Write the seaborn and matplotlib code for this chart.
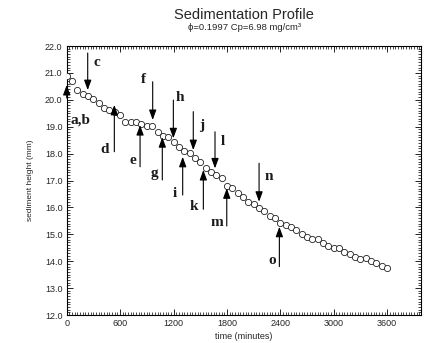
import matplotlib
matplotlib.use("Agg")
import matplotlib.pyplot as plt
import seaborn as sns
import pandas as pd
from matplotlib.ticker import MultipleLocator

# ---------------- data ----------------
time_min = [0, 60, 120, 180, 240, 300, 360, 420, 480, 540,
            600, 660, 720, 780, 840, 900, 960, 1020, 1080, 1140,
            1200, 1260, 1320, 1380, 1440, 1500, 1560, 1620, 1680, 1740,
            1800, 1860, 1920, 1980, 2040, 2100, 2160, 2220, 2280, 2340,
            2400, 2460, 2520, 2580, 2640, 2700, 2760, 2820, 2880, 2940,
            3000, 3060, 3120, 3180, 3240, 3300, 3360, 3420, 3480, 3540,
            3600]
height_mm = [20.88, 20.71, 20.36, 20.22, 20.14, 20.03, 19.87, 19.71, 19.62, 19.54,
             19.43, 19.19, 19.19, 19.19, 19.10, 19.03, 19.04, 18.81, 18.67, 18.61,
             18.42, 18.23, 18.10, 18.01, 17.83, 17.68, 17.48, 17.33, 17.20, 17.10,
             16.80, 16.71, 16.55, 16.40, 16.21, 16.12, 15.97, 15.87, 15.69, 15.62,
             15.43, 15.35, 15.26, 15.16, 15.01, 14.91, 14.83, 14.83, 14.69, 14.58,
             14.48, 14.50, 14.33, 14.26, 14.14, 14.07, 14.11, 14.01, 13.92, 13.82,
             13.73]

# arrow annotations: label, time, tail y, tip y, label x, label y
arrow_labels = ["a,b", "c", "d", "e", "f", "g", "h", "i", "j", "k", "l", "m", "n", "o"]
arrow_time   = [0, 236, 535, 824, 966, 1074, 1198, 1303, 1422, 1535, 1666, 1798, 2161, 2389]
arrow_tail   = [20.07, 21.74, 18.07, 17.51, 20.67, 17.02, 19.99, 16.46, 19.56, 15.93, 18.81, 15.31, 17.64, 13.80]
arrow_tip    = [20.55, 20.36, 19.81, 19.06, 19.25, 18.61, 18.57, 17.88, 18.13, 17.39, 17.45, 16.71, 16.21, 15.28]
label_x      = [150, 337, 430, 742, 861, 981, 1273, 1217, 1517, 1430, 1753, 1685, 2265, 2303]
label_y      = [19.25, 21.37, 18.17, 17.74, 20.76, 17.27, 20.09, 16.52, 19.06, 16.03, 18.44, 15.43, 17.14, 14.04]

title = "Sedimentation Profile"
subtitle = "ϕ=0.1997 Cp=6.98 mg/cm³"
x_label = "time (minutes)"
y_label = "sediment height (mm)"

# ---------------- plot ----------------
sns.set_theme(style="ticks")
plt.rcParams["font.family"] = ["Liberation Sans", "DejaVu Sans"]

df = pd.DataFrame({"time": time_min, "height": height_mm})

fig = plt.figure(figsize=(4.25, 3.43), dpi=100)
ax = fig.add_axes([66.7 / 425, 1 - 315 / 343, (421 - 66.7) / 425, (315 - 46) / 343])

sns.scatterplot(data=df, x="time", y="height", ax=ax, marker="o", s=20,
                facecolor="white", edgecolor="#222222", linewidth=0.6, zorder=3)

for lab, t, tail, tip, lx, ly in zip(arrow_labels, arrow_time, arrow_tail, arrow_tip, label_x, label_y):
    ax.annotate("", xy=(t, tip), xytext=(t, tail),
                arrowprops=dict(arrowstyle="-|>,head_length=0.6,head_width=0.22",
                                color="black", lw=0.8, mutation_scale=10,
                                shrinkA=0, shrinkB=0), zorder=4)
    ax.text(lx, ly, lab, ha="center", va="center", fontsize=11,
            fontweight="bold", family=["Liberation Serif", "DejaVu Serif"],
            color="#1a1a1a", zorder=5)

ax.set_xlim(0, 3980)
ax.set_ylim(12.0, 22.0)
ax.xaxis.set_major_locator(MultipleLocator(600))
ax.xaxis.set_minor_locator(MultipleLocator(30))
ax.yaxis.set_major_locator(MultipleLocator(1.0))
ax.yaxis.set_minor_locator(MultipleLocator(0.1))
ax.yaxis.set_major_formatter(matplotlib.ticker.FormatStrFormatter("%.1f"))
ax.tick_params(which="both", direction="in", top=True, right=True,
               labelsize=6.5, pad=3, color="black", width=0.6)
ax.tick_params(which="major", length=4)
ax.tick_params(which="minor", length=2, width=0.5)
for sp in ax.spines.values():
    sp.set_linewidth(0.8)
    sp.set_color("black")

ax.set_xlabel(x_label, fontsize=6.5, labelpad=3)
ax.set_ylabel(y_label, fontsize=6, labelpad=8)

fig.text(244 / 425, 1 - 15 / 343, title, ha="center", va="center", fontsize=10.5)
fig.text(244 / 425, 1 - 28 / 343, subtitle, ha="center", va="center", fontsize=6.8)

fig.savefig("out.png", dpi=100)
